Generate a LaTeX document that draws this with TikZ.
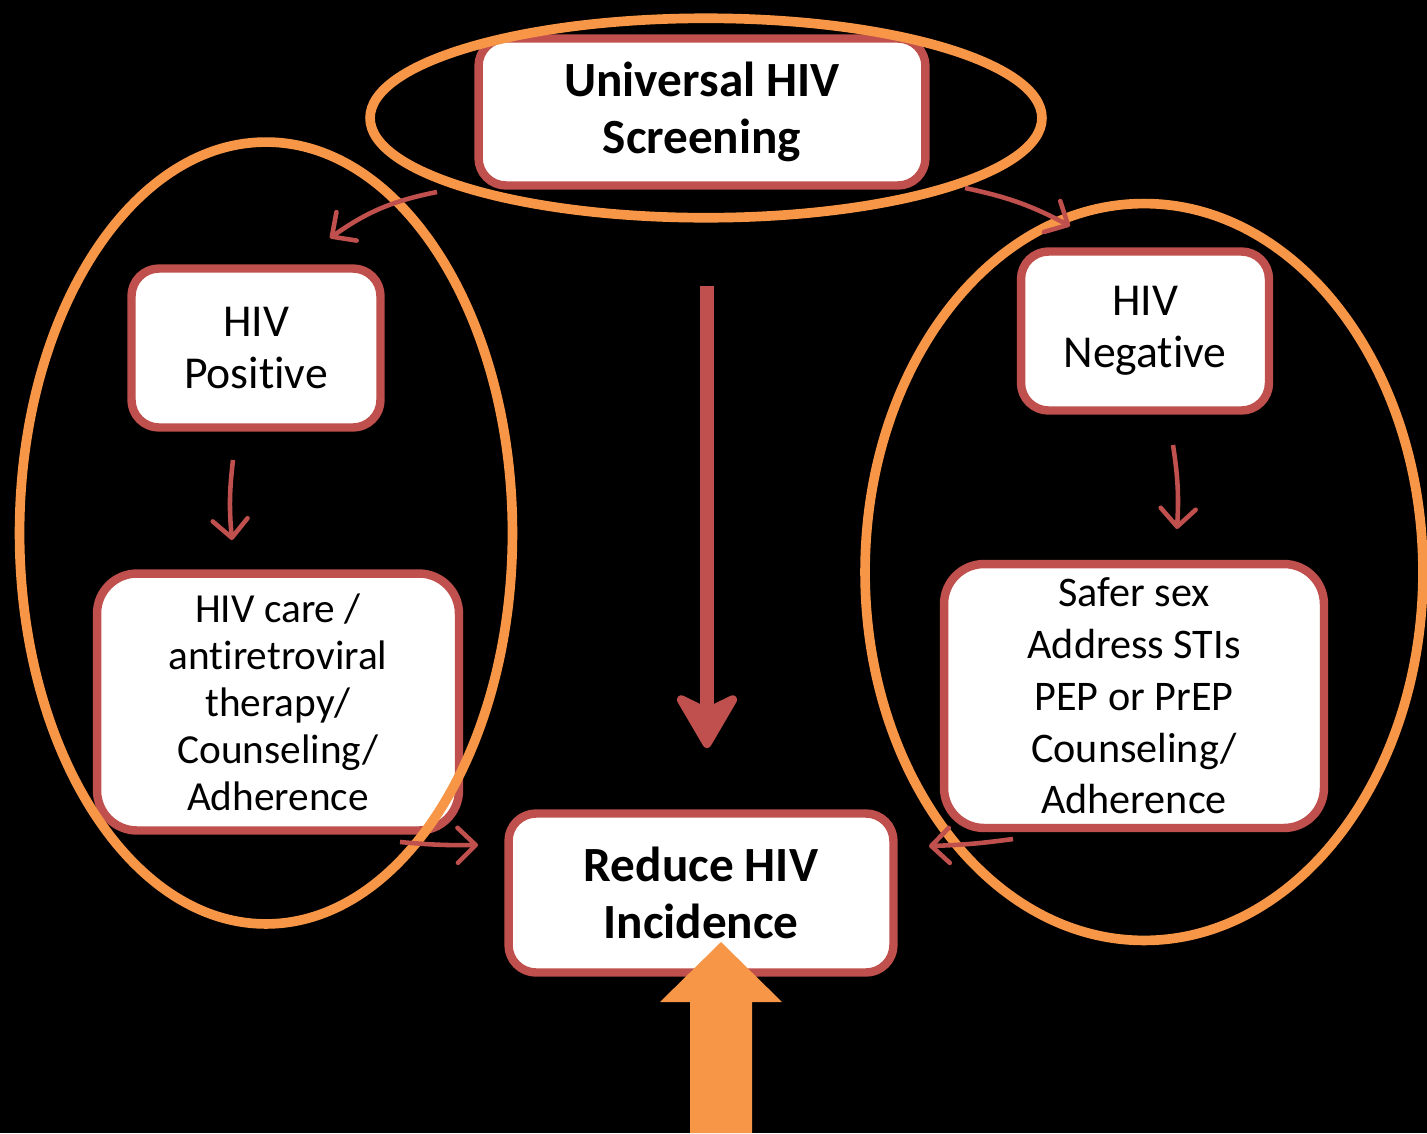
\documentclass[tikz,border=0pt]{standalone}
\usepackage{fontspec}
\setmainfont{Carlito}[Ligatures={NoCommon,NoContextual,NoRare}, Contextuals=NoAlternate]
\usepackage{tikz}
\usetikzlibrary{
  arrows.meta,
  positioning,
  shapes.geometric
}
\definecolor{boxred}{HTML}{C0504D}
\definecolor{ringorange}{HTML}{F79646}

\begin{document}
\begin{tikzpicture}[
  x=0.02cm, y=-0.02cm,
  stepbox/.style={draw=boxred, line width=4.8pt, fill=white,
                  rounded corners=0.55cm, align=center, inner sep=0pt},
  bigtxt/.style={font=\fontsize{28}{32}\selectfont\bfseries},
  midtxt/.style={font=\fontsize{26}{29.5}\selectfont},
  ring/.style={draw=ringorange, line width=5.5pt, ellipse, inner sep=0pt},
  flow/.style={draw=boxred, line width=2.6pt,
               -{Straight Barb[round, length=0.36cm, width=0.7cm]}},
]
  % Background
  \fill[black] (0,0) rectangle (1427,1133);
  \useasboundingbox (0,0) rectangle (1427,1133);

  % Main downward arrow
  \coordinate (mainfrom) at (707,286);
  \coordinate (maintip) at (707,748);
  \draw[boxred, line width=0.28cm,
        -{Stealth[round, length=1.25cm, width=1.45cm, inset=0.35cm, line width=5pt]}]
    (mainfrom) -- (maintip);

  % Boxes
  \node[stepbox, bigtxt, minimum width=8.94cm, minimum height=2.94cm] (screen)
    at (702,112) {Universal HIV\\Screening};
  \node[stepbox, midtxt, minimum width=4.98cm, minimum height=3.18cm] (pos)
    at (256,348) {HIV\\Positive};
  \node[stepbox, minimum width=7.24cm, minimum height=5.14cm,
        rounded corners=0.8cm, font=\fontsize{23.5}{26.8}\selectfont] (care)
    at (278,702) {HIV care /\\antiretroviral\\therapy/\\Counseling/\\Adherence};
  \node[stepbox, midtxt, minimum width=4.96cm, minimum height=3.18cm] (neg)
    at (1145,331) {HIV\\Negative};
  \node[stepbox, minimum width=7.6cm, minimum height=5.28cm,
        rounded corners=0.8cm, font=\fontsize{24}{29.5}\selectfont] (safer)
    at (1134,696) {Safer sex\\Address STIs\\PEP or PrEP\\Counseling/\\Adherence};
  \node[stepbox, bigtxt, minimum width=7.7cm, minimum height=3.18cm] (reduce)
    at (701,893) {Reduce HIV\\Incidence};

  % Rings
  \node[ring, minimum width=13.44cm, minimum height=3.99cm] (topring) at (706,118) {};
  \node[ring, minimum width=9.86cm, minimum height=15.64cm] (leftring) at (266,533) {};
  \node[ring, minimum width=11.16cm, minimum height=14.74cm] (rightring) at (1144,572) {};

  % Thin arrows
  \coordinate (p1) at (437,192);
  \coordinate (p2) at (330,238);
  \coordinate (n1) at (965,188);
  \coordinate (n2) at (1070,226);
  \coordinate (p3) at (233,460);
  \coordinate (p4) at (232,540);
  \coordinate (n3) at (1173,445);
  \coordinate (n4) at (1177,529);
  \coordinate (p5) at (400,842);
  \coordinate (p6) at (478,845);
  \coordinate (n5) at (1013,839);
  \coordinate (n6) at (929,846);
  \draw[flow] (p1) to[bend right=12] (p2);
  \draw[flow] (n1) to[bend left=8] (n2);
  \draw[flow] (p3) to[bend right=6] (p4);
  \draw[flow] (n3) to[bend left=6] (n4);
  \draw[flow] (p5) to[bend right=3] (p6);
  \draw[flow] (n5) to[bend left=3] (n6);

  % Incoming block arrow
  \fill[ringorange] (690,1133) -- (690,1002) -- (660,1002) -- (721,942)
    -- (782,1002) -- (752,1002) -- (752,1133) -- cycle;
\end{tikzpicture}
\end{document}
